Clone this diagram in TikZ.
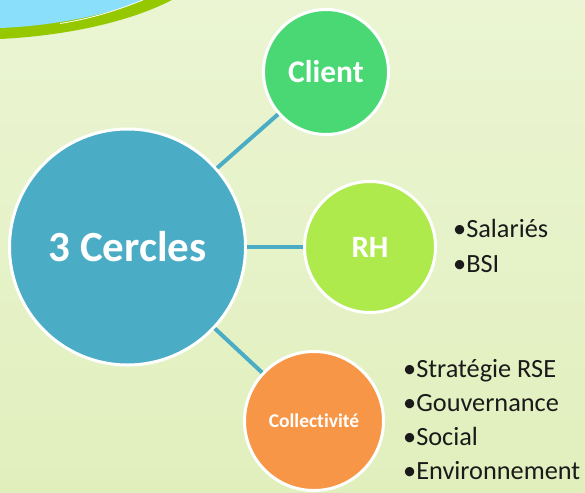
\documentclass[tikz,border=0pt]{standalone}
\usepackage{fontspec}
\setmainfont{Carlito}[Ligatures={NoCommon,NoRare,NoContextual}]
\definecolor{bgtop}{HTML}{EBF5D3}
\definecolor{bgbot}{HTML}{E1EFBD}
\definecolor{mainblue}{HTML}{4BACC6}
\definecolor{clientgreen}{HTML}{4AD874}
\definecolor{rhgreen}{HTML}{AEEA4C}
\definecolor{collorange}{HTML}{F79646}
\definecolor{skyblue}{HTML}{8ADFFB}
\definecolor{bandgreen}{HTML}{96C800}
\definecolor{txt}{HTML}{1A1A1A}
\tikzset{
  bubble/.style={circle, draw=white, line width=3pt, text=white, font=\bfseries, inner sep=0pt},
  link/.style={draw=mainblue, line width=4pt},
  item/.style={anchor=base west, inner sep=0pt, text=txt, font=\fontsize{26.3}{30}\selectfont}
}
\begin{document}
\begin{tikzpicture}[x=1pt,y=-1pt]
\useasboundingbox (0,0) rectangle (585,492);
\fill[top color=bgtop, bottom color=bgbot] (0,0) rectangle (585,492);
% top-left decoration
\fill[bandgreen] (0,0) -- (0,39) .. controls (60,36) and (125,24) .. (172,0) -- cycle;
\fill[skyblue] (0,0) -- (0,28) .. controls (50,26) and (105,16) .. (143,0) -- cycle;
\draw[white, line width=0.8pt] (60,23.5) .. controls (95,18) and (120,9) .. (143,0);
% circles
\node[bubble, fill=mainblue, minimum size=236pt, font=\bfseries\fontsize{43}{50}\selectfont] (main) at (127.5,247) {3 Cercles};
\node[bubble, fill=clientgreen, minimum size=125pt, font=\bfseries\fontsize{31.5}{36}\selectfont] (client) at (326,72) {Client};
\node[bubble, fill=rhgreen, minimum size=131pt, font=\bfseries\fontsize{31}{36}\selectfont] (rh) at (370,247) {RH};
\node[bubble, fill=collorange, minimum size=139pt, font=\bfseries\fontsize{19.5}{23}\selectfont] (coll) at (314,421) {Collectivité};
% connectors
\draw[link] (main) -- (client);
\draw[link] (main) -- (rh);
\draw[link] (main) -- (coll);
% lists
\node[item] (r1) at (453,237) {•Salariés};
\node[item] (r2) at (453,272) {•BSI};
\node[item] (c1) at (403,377) {•Stratégie RSE};
\node[item] (c2) at (403,411) {•Gouvernance};
\node[item] (c3) at (403,445) {•Social};
\node[item] (c4) at (403,479) {•Environnement};
\end{tikzpicture}
\end{document}
